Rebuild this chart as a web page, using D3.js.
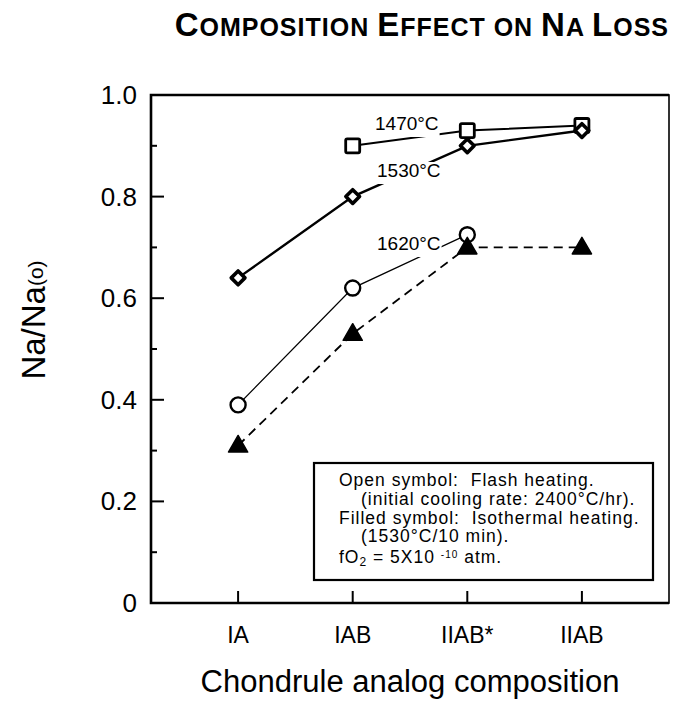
<!DOCTYPE html>
<html>
<head>
<meta charset="utf-8">
<script src="https://cdn.jsdelivr.net/npm/d3@7"></script>
<style>
  body { margin: 0; background: #fff; }
  text { font-family: "Liberation Sans", Arial, Helvetica, sans-serif; fill: #000; }
</style>
</head>
<body>
<svg id="chart" width="674" height="706"></svg>
<script>
// chart data
const categories = ["IA", "IAB", "IIAB*", "IIAB"];
const flash1470 = [null, 0.90, 0.93, 0.94];   // open squares
const flash1530 = [0.64, 0.80, 0.90, 0.93];   // open diamonds
const flash1620 = [0.39, 0.62, 0.725, null];  // open circles
const iso1530 = [0.31, 0.53, 0.70, 0.70];     // filled triangles
const yTicks = [0, 0.2, 0.4, 0.6, 0.8, 1.0];
const yMinor = [0.1, 0.3, 0.5, 0.7, 0.9];
const legendLines = [
  {t: "Open symbol:\u00a0 Flash heating.", indent: 0},
  {t: "(initial cooling rate: 2400°C/hr).", indent: 22},
  {t: "Filled symbol:\u00a0 Isothermal heating.", indent: 0},
  {t: "(1530°C/10 min).", indent: 22},
  {t: "fO2", indent: 0}
];

const svg = d3.select("#chart");
const pL = 151, pR = 669, pT = 95, pB = 603;

const x = d3.scalePoint().domain(categories).range([pL, pR]).padding(0.76);
const y = d3.scaleLinear().domain([0, 1]).range([pB, pT]);

// title, small caps done by hand
const title = svg.append("text")
  .attr("x", 669).attr("y", 36)
  .attr("text-anchor", "end")
  .style("font-weight", "bold")
  .style("letter-spacing", "1px");
[["C", 1], ["OMPOSITION ", 0], ["E", 1], ["FFECT ON ", 0], ["N", 1], ["A ", 0], ["L", 1], ["OSS", 0]]
  .forEach(p => {
    title.append("tspan").text(p[0]).style("font-size", p[1] ? "33px" : "25px");
  });

// frame
svg.append("rect")
  .attr("x", pL).attr("y", pT)
  .attr("width", pR - pL).attr("height", pB - pT)
  .attr("fill", "none").attr("stroke", "#000").attr("stroke-width", 1.6);
svg.append("path")
  .attr("d", `M${pR},${pT}H${pL}V${pB}H${pR}`)
  .attr("fill", "none").attr("stroke", "#000").attr("stroke-width", 2.6);

// y ticks (inward)
const yAxis = svg.append("g");
yAxis.selectAll("line.major").data(yTicks).join("line")
  .attr("class", "major")
  .attr("x1", pL).attr("x2", pL + 13)
  .attr("y1", d => y(d)).attr("y2", d => y(d))
  .attr("stroke", "#000").attr("stroke-width", 2);
yAxis.selectAll("line.minor").data(yMinor).join("line")
  .attr("class", "minor")
  .attr("x1", pL).attr("x2", pL + 6)
  .attr("y1", d => y(d)).attr("y2", d => y(d))
  .attr("stroke", "#000").attr("stroke-width", 2);
yAxis.selectAll("text").data(yTicks).join("text")
  .attr("x", 137).attr("y", d => y(d) + 9)
  .attr("text-anchor", "end")
  .style("font-size", "26px")
  .text(d => d === 0 ? "0" : d3.format(".1f")(d));

// x ticks (inward)
const xAxis = svg.append("g");
xAxis.selectAll("line").data(categories).join("line")
  .attr("x1", d => x(d)).attr("x2", d => x(d))
  .attr("y1", pB).attr("y2", pB - 12)
  .attr("stroke", "#000").attr("stroke-width", 2);
xAxis.selectAll("text").data(categories).join("text")
  .attr("x", d => x(d)).attr("y", 643)
  .attr("text-anchor", "middle")
  .style("font-size", "23px")
  .text(d => d);

// axis titles
svg.append("text")
  .attr("x", 410).attr("y", 692)
  .attr("text-anchor", "middle")
  .style("font-size", "31px")
  .text("Chondrule analog composition");

const yl = svg.append("text")
  .attr("transform", "translate(45,320) rotate(-90)")
  .attr("text-anchor", "middle")
  .style("font-size", "33px");
yl.append("tspan").text("Na/Na");
yl.append("tspan").text("(o)").style("font-size", "21px").attr("dy", -2);

// series lines
function pts(vals) {
  return categories.map((c, i) => [c, vals[i]]).filter(d => d[1] != null);
}
const line = d3.line().x(d => x(d[0])).y(d => y(d[1]));
const plot = svg.append("g");

plot.append("path").datum(pts(flash1470)).attr("d", line)
  .attr("fill", "none").attr("stroke", "#000").attr("stroke-width", 2);
plot.append("path").datum(pts(flash1530)).attr("d", line)
  .attr("fill", "none").attr("stroke", "#000").attr("stroke-width", 2.4);
plot.append("path").datum(pts(flash1620)).attr("d", line)
  .attr("fill", "none").attr("stroke", "#000").attr("stroke-width", 1.3);
plot.append("path").datum(pts(iso1530)).attr("d", line)
  .attr("fill", "none").attr("stroke", "#000").attr("stroke-width", 1.8)
  .attr("stroke-dasharray", "9,6");

// temperature labels with white backing (they break the lines)
const tempLabels = [
  {t: "1470°C", x: 375, y: 130},
  {t: "1530°C", x: 377, y: 177},
  {t: "1620°C", x: 377, y: 250}
];
tempLabels.forEach(l => {
  const g = plot.append("g");
  const txt = g.append("text").attr("x", l.x).attr("y", l.y)
    .style("font-size", "19px").text(l.t);
  const bb = txt.node().getBBox();
  g.insert("rect", "text")
    .attr("x", bb.x - 1).attr("y", bb.y + 2)
    .attr("width", bb.width + 2).attr("height", bb.height + 1)
    .attr("fill", "#fff");
});

// markers
plot.selectAll("rect.sq").data(pts(flash1470)).join("rect")
  .attr("class", "sq")
  .attr("x", d => x(d[0]) - 7).attr("y", d => y(d[1]) - 7)
  .attr("width", 14).attr("height", 14).attr("rx", 1.5)
  .attr("fill", "#fff").attr("stroke", "#000").attr("stroke-width", 2.8);

const diamond = d3.symbol().type(d3.symbolDiamond2).size(120);
plot.selectAll("path.dm").data(pts(flash1530)).join("path")
  .attr("class", "dm")
  .attr("d", diamond)
  .attr("transform", d => `translate(${x(d[0])},${y(d[1])})`)
  .attr("fill", "#fff").attr("stroke", "#000").attr("stroke-width", 3.6)
  .attr("stroke-linejoin", "round");

plot.selectAll("circle.ci").data(pts(flash1620)).join("circle")
  .attr("class", "ci")
  .attr("cx", d => x(d[0])).attr("cy", d => y(d[1])).attr("r", 7.5)
  .attr("fill", "#fff").attr("stroke", "#000").attr("stroke-width", 2.4);

const tri = d3.symbol().type(d3.symbolTriangle).size(160);
plot.selectAll("path.tr").data(pts(iso1530)).join("path")
  .attr("class", "tr")
  .attr("d", tri)
  .attr("transform", d => `translate(${x(d[0])},${y(d[1]) + 1})`)
  .attr("fill", "#000").attr("stroke", "#000").attr("stroke-width", 1.5)
  .attr("stroke-linejoin", "round");

// legend box
const lg = svg.append("g");
lg.append("rect")
  .attr("x", 314).attr("y", 463).attr("width", 339).attr("height", 117)
  .attr("fill", "#fff").attr("stroke", "#000").attr("stroke-width", 2.2);
legendLines.forEach((l, i) => {
  const t = lg.append("text")
    .attr("x", 339 + l.indent).attr("y", 486 + i * 18.8 + (i === 4 ? 1.5 : 0))
    .style("font-size", "17.5px")
    .style("letter-spacing", "1px");
  if (i === 4) {
    t.append("tspan").text("fO");
    t.append("tspan").text("2").style("font-size", "12px").attr("dy", 3);
    t.append("tspan").text(" = 5X10 ").attr("dy", -3);
    t.append("tspan").text("-10").style("font-size", "10px").attr("dy", -5);
    t.append("tspan").text(" atm.").attr("dy", 5);
  } else {
    t.text(l.t);
  }
});
</script>
</body>
</html>
